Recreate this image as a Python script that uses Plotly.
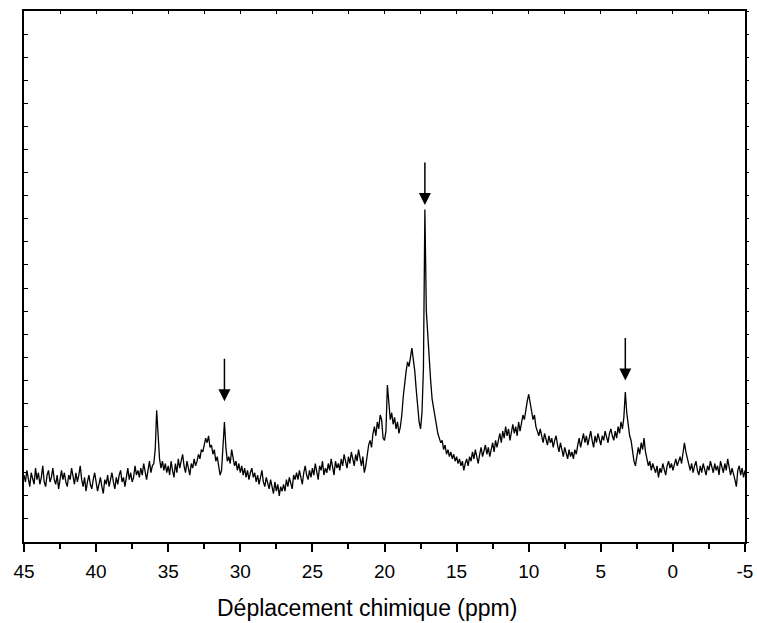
import plotly.graph_objects as go

# Spectrum intensities (arbitrary units), sampled every 0.1 ppm from 45.0 down to -5.0
start_ppm = 45.0
step_ppm = -0.1
intensity = [
    29, 26, 31, 27, 24, 30, 28, 25, 32, 27,   # 45.0 .. 44.1
    30, 25, 28, 33, 26, 24, 29, 31, 26, 28,   # 44
    32, 27, 25, 29, 23, 28, 31, 27, 30, 26,   # 43
    24, 29, 27, 32, 28, 25, 30, 26, 29, 33,   # 42
    27, 24, 28, 22, 26, 29, 25, 23, 27, 30,   # 41
    26, 22, 25, 28, 24, 21, 27, 25, 29, 24,   # 40
    27, 30, 26, 23, 28, 25, 29, 31, 26, 28,   # 39
    24, 29, 32, 27, 30, 26, 28, 33, 29, 31,   # 38
    28, 32, 29, 34, 30, 27, 31, 35, 30, 33,   # 37
    34, 40, 57, 45, 36, 32, 35, 31, 34, 30,   # 36
    33, 29, 35, 31, 28, 34, 30, 36, 32, 35,   # 35
    38, 33, 30, 35, 31, 29, 34, 32, 36, 33,   # 34
    35, 38, 36, 40, 39, 42, 45, 43, 46, 41,   # 33
    42, 38, 40, 35, 37, 33, 29, 31, 40, 52,   # 32
    41, 35, 37, 34, 40, 36, 33, 35, 31, 34,   # 31
    30, 33, 29, 32, 28, 31, 27, 30, 32, 28,   # 30
    30, 26, 29, 25, 28, 31, 26, 24, 28, 25,   # 29
    23, 27, 24, 21, 26, 22, 25, 20, 24, 22,   # 28
    25, 22, 27, 24, 28, 26, 23, 29, 27, 30,   # 27
    27, 31, 28, 25, 30, 33, 29, 27, 31, 28,   # 26
    32, 29, 34, 30, 27, 33, 31, 35, 29, 32,   # 25
    30, 34, 31, 36, 33, 29, 35, 32, 34, 31,   # 24
    36, 33, 38, 35, 32, 37, 34, 39, 35, 33,   # 23
    38, 35, 40, 36, 33, 37, 30, 33, 38, 42,   # 22
    44, 41, 47, 50, 46, 52, 49, 55, 53, 45,   # 21
    44, 48, 68, 58, 53, 56, 51, 54, 49, 52,   # 20
    47, 50, 55, 63, 70, 74, 78, 76, 80, 84,   # 19
    79, 74, 66, 58, 52, 49, 56, 75, 144, 100, # 18
    88, 76, 70, 62, 58, 54, 50, 47, 45, 43,   # 17
    44, 40, 42, 38, 40, 37, 39, 36, 38, 35,   # 16
    37, 34, 36, 33, 35, 31, 34, 36, 33, 37,   # 15
    35, 39, 36, 40, 37, 34, 38, 41, 37, 39,   # 14
    42, 38, 41, 37, 40, 43, 39, 44, 41, 45,   # 13
    47, 43, 48, 45, 50, 46, 49, 44, 48, 51,   # 12
    47, 50, 46, 52, 48, 51, 55, 53, 58, 61,   # 11
    64, 60, 57, 53, 55, 50, 48, 46, 49, 45,   # 10
    43, 47, 44, 42, 46, 43, 45, 41, 44, 46,   # 9
    42, 39, 43, 40, 37, 41, 38, 36, 40, 37,   # 8
    39, 36, 40, 38, 42, 45, 41, 44, 47, 43,   # 7
    46, 42, 45, 48, 44, 41, 46, 43, 47, 45,   # 6
    42, 46, 44, 48, 45, 43, 47, 49, 46, 44,   # 5
    48, 45, 50, 47, 52, 49, 54, 65, 56, 50,   # 4
    46, 44, 39, 35, 33, 37, 41, 38, 43, 40,   # 3
    45, 39, 36, 33, 35, 31, 34, 32, 30, 33,   # 2
    28, 32, 30, 34, 31, 29, 33, 35, 32, 34,   # 1
    31, 34, 36, 33, 35, 37, 34, 38, 43, 39,   # 0
    36, 33, 31, 34, 30, 33, 35, 31, 29, 33,   # -1
    30, 34, 32, 29, 33, 31, 35, 32, 30, 34,   # -2
    31, 33, 29, 35, 32, 30, 34, 31, 36, 33,   # -3
    29, 32, 30, 27, 24, 31, 33, 29, 32, 28,   # -4
    31,                                       # -5.0
]

# Arrow markers (ppm position, intensity at arrow tip)
arrow_ppm = [31.1, 17.2, 3.3]
arrow_tip = [61, 146, 70]

x_tick_vals = [45, 40, 35, 30, 25, 20, 15, 10, 5, 0, -5]
x_tick_text = ["45", "40", "35", "30", "25", "20", "15", "10", "5", "0", "-5"]
x_title = "Déplacement chimique (ppm)"

fig = go.Figure()
fig.add_trace(go.Scatter(
    x0=start_ppm, dx=step_ppm, y=intensity,
    mode="lines", line=dict(color="black", width=1.3),
    showlegend=False, hoverinfo="skip",
))

for xp, yt in zip(arrow_ppm, arrow_tip):
    fig.add_annotation(
        x=xp, y=yt, xref="x", yref="y", text="",
        showarrow=True, ax=0, ay=-44, axref="pixel", ayref="pixel",
        arrowhead=2, arrowsize=1.6, arrowwidth=1.5, arrowcolor="black",
    )

font_family = "Arial, Liberation Sans, sans-serif"

# axis title placed as a paper annotation (slightly left of centre, as in the original)
fig.add_annotation(
    text=x_title, xref="paper", yref="paper", x=0.476, y=-0.124,
    xanchor="center", yanchor="middle", showarrow=False,
    font=dict(size=23, family=font_family, color="black"),
)

fig.update_layout(
    width=757, height=623,
    margin=dict(l=24, r=12, t=11, b=81, autoexpand=False),
    paper_bgcolor="white", plot_bgcolor="white",
    font=dict(family=font_family, color="black"),
    xaxis=dict(
        range=[45, -5], tickmode="array", tickvals=x_tick_vals, ticktext=x_tick_text,
        ticks="outside", ticklen=8, tickwidth=1.5, tickcolor="black",
        ticklabelstandoff=3, automargin=False,
        minor=dict(dtick=2.5, tick0=0, ticks="outside", ticklen=5, tickwidth=1.5, tickcolor="black"),
        showline=True, linecolor="black", linewidth=2, mirror=True,
        showgrid=False, zeroline=False,
        tickfont=dict(size=19, family=font_family),
    ),
    xaxis2=dict(
        range=[45, -5], overlaying="x", side="top", dtick=2.5, tick0=0,
        ticks="inside", ticklen=3, tickwidth=1, tickcolor="black", automargin=False,
        showticklabels=False, showgrid=False, zeroline=False, showline=False,
    ),
    yaxis=dict(
        range=[0, 230], dtick=10, tick0=0, automargin=False,
        ticks="inside", ticklen=4, tickwidth=1, tickcolor="black",
        showticklabels=False, showline=True, linecolor="black", linewidth=2, mirror=True,
        showgrid=False, zeroline=False,
    ),
    yaxis2=dict(
        range=[0, 230], dtick=10, tick0=0, overlaying="y", side="right", automargin=False,
        ticks="outside", ticklen=3, tickwidth=1, tickcolor="black",
        showticklabels=False, showgrid=False, zeroline=False, showline=False,
    ),
)

# invisible trace to activate the secondary axes
fig.add_trace(go.Scatter(x=[45], y=[0], xaxis="x2", yaxis="y2", mode="markers",
                         marker=dict(opacity=0), showlegend=False, hoverinfo="skip"))

fig.write_html(
    "out.html",
    config={"displayModeBar": False},
    post_script="document.body.style.margin='0';document.body.style.overflow='hidden';",
)
